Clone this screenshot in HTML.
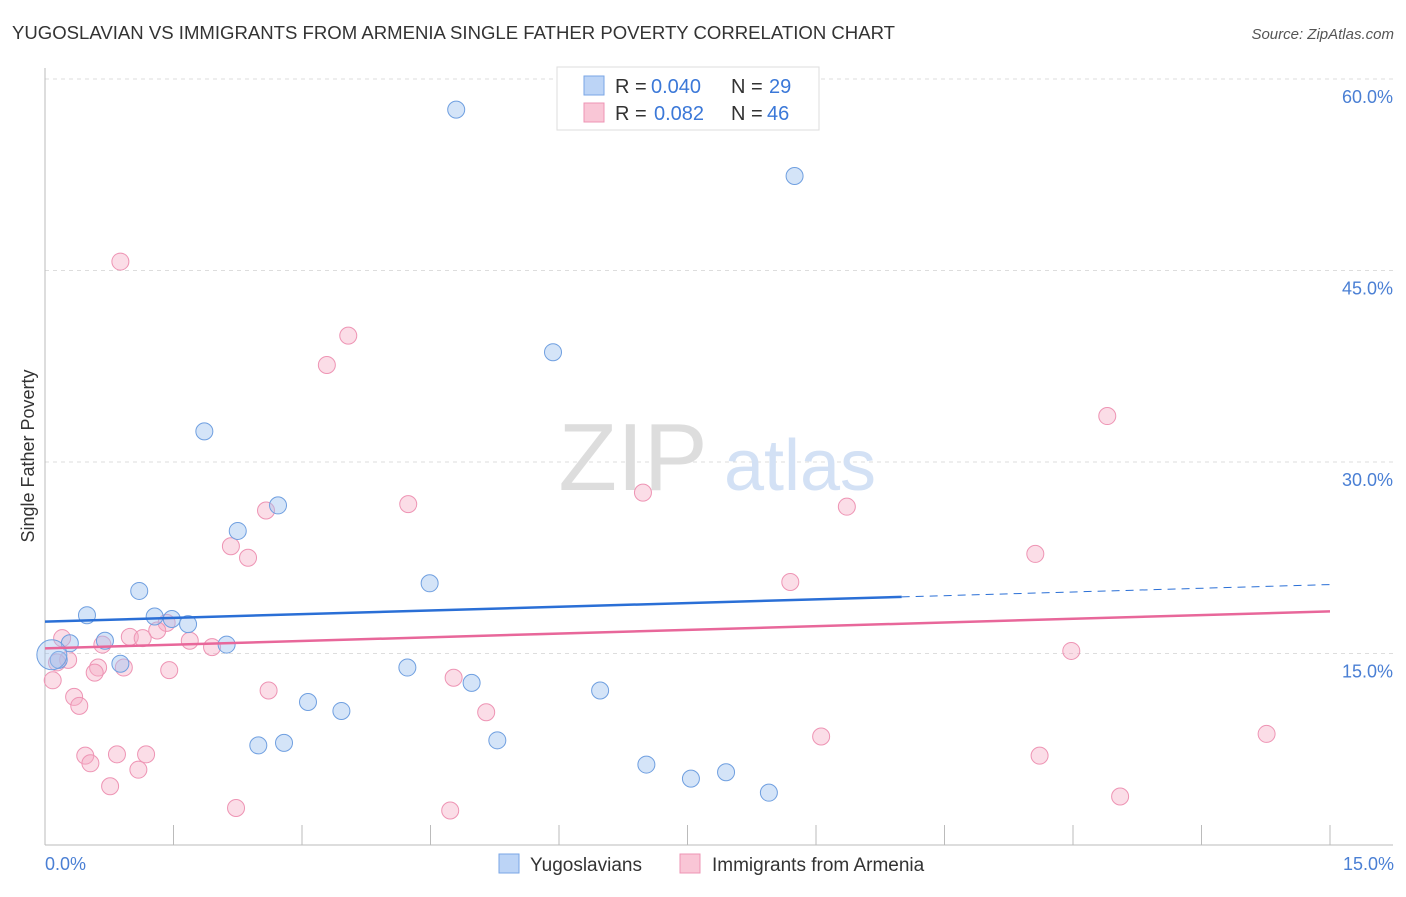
<!DOCTYPE html>
<html><head><meta charset="utf-8"><style>
body{margin:0;background:#fff;font-family:"Liberation Sans",sans-serif;}
svg text{font-family:"Liberation Sans",sans-serif;}
</style></head><body>
<svg id="chart" width="1406" height="892" xmlns="http://www.w3.org/2000/svg">
<text x="12" y="39" font-size="18" fill="#333" textLength="883" lengthAdjust="spacingAndGlyphs">YUGOSLAVIAN VS IMMIGRANTS FROM ARMENIA SINGLE FATHER POVERTY CORRELATION CHART</text>
<text x="1394" y="39" font-size="15" fill="#555" font-style="italic" text-anchor="end">Source: ZipAtlas.com</text>
<g id="grid"></g>
<text x="633" y="490" font-size="96" fill="#ddd" font-family="Liberation Serif" text-anchor="middle">ZIP</text>
<text x="800" y="490" font-size="72" fill="#d3e1f5" text-anchor="middle">atlas</text>
<g id="marks"></g>
<text transform="translate(34,456) rotate(-90)" font-size="18" fill="#333" text-anchor="middle">Single Father Poverty</text>
<text x="45" y="870" font-size="18" fill="#4a7fd4">0.0%</text>
<text x="1394" y="870" font-size="18" fill="#4a7fd4" text-anchor="end">15.0%</text>
<g>
<rect x="557" y="67" width="262" height="63" fill="#fff" stroke="#ddd"/>
<rect x="584" y="76" width="20" height="19" fill="#bcd4f6" stroke="#7aa6e6"/>
<rect x="584" y="103" width="20" height="19" fill="#f9c6d6" stroke="#ee94b4"/>
<text x="615" y="93" font-size="20" fill="#333">R =</text>
<text x="651" y="93" font-size="20" fill="#3b78d8">0.040</text>
<text x="731" y="93" font-size="20" fill="#333">N =</text>
<text x="769" y="93" font-size="20" fill="#3b78d8">29</text>
<text x="615" y="120" font-size="20" fill="#333">R =</text>
<text x="654" y="120" font-size="20" fill="#3b78d8">0.082</text>
<text x="731" y="120" font-size="20" fill="#333">N =</text>
<text x="767" y="120" font-size="20" fill="#3b78d8">46</text>
</g>
<g>
<rect x="499" y="854" width="20" height="19" fill="#bcd4f6" stroke="#7aa6e6"/>
<text x="530" y="871" font-size="19" fill="#333">Yugoslavians</text>
<rect x="680" y="854" width="20" height="19" fill="#f9c6d6" stroke="#ee94b4"/>
<text x="712" y="871" font-size="19" fill="#333">Immigrants from Armenia</text>
</g>
</svg>
<script>
const yTicks=[15,30,45,60];
const yTickLabels=["15.0%","30.0%","45.0%","60.0%"];
const xTicks=[0,1.5,3,4.5,6,7.5,9,10.5,12,13.5,15];
const blueX=[4.80,8.75,5.93,1.86,2.72,2.25,4.49,1.10,0.49,1.28,1.48,1.67,0.29,0.70,2.12,0.16,0.88,4.23,4.98,6.48,3.07,3.46,5.28,2.49,2.79,7.02,7.95,7.54,8.45];
const blueY=[57.6,52.4,38.6,32.4,26.6,24.6,20.5,19.9,18.0,17.9,17.7,17.3,15.8,16.0,15.7,14.5,14.2,13.9,12.7,12.1,11.2,10.5,8.2,7.8,8.0,6.3,5.7,5.2,4.1];
const pinkX=[0.88,3.54,3.29,12.40,6.98,4.24,9.36,2.58,2.17,2.37,11.56,8.70,1.42,1.31,0.99,1.14,0.20,0.67,1.69,1.95,0.27,0.14,0.62,0.92,0.58,1.45,0.09,11.98,4.77,0.34,2.61,0.40,5.15,9.06,14.26,0.47,0.84,1.18,0.53,1.09,0.76,11.61,12.55,2.23,4.73];
const pinkY=[45.7,39.9,37.6,33.6,27.6,26.7,26.5,26.2,23.4,22.5,22.8,20.6,17.4,16.8,16.3,16.2,16.2,15.7,16.0,15.5,14.5,14.3,13.9,13.9,13.5,13.7,12.9,15.2,13.1,11.6,12.1,10.9,10.4,8.5,8.7,7.0,7.1,7.1,6.4,5.9,4.6,7.0,3.8,2.9,2.7];
const blueTrend=[17.5,20.4];
const pinkTrend=[15.4,18.3];
const NS="http://www.w3.org/2000/svg";
const xs=v=>45+v/15*1285;
const ys=v=>845-v*191.5/15;
function mk(tag,attrs,parent){const e=document.createElementNS(NS,tag);for(const k in attrs)e.setAttribute(k,attrs[k]);parent.appendChild(e);return e;}
const grid=document.getElementById('grid');
const marks=document.getElementById('marks');
yTicks.forEach((t,i)=>{
 const l=mk('line',{x1:45,x2:1393,y1:ys(t),y2:ys(t),stroke:'#ddd','stroke-dasharray':'4,4'},grid);
 
 
 const tx=mk('text',{x:1393,y:ys(t)+24,'font-size':18,fill:'#4a7fd4','text-anchor':'end'},grid);
 tx.textContent=yTickLabels[i];
 
 
});
const ax=mk('line',{x1:45,x2:1393,y1:845,y2:845,stroke:'#bbb'},grid);


const ay=mk('line',{x1:45,x2:45,y1:68,y2:845,stroke:'#bbb'},grid);


xTicks.forEach(t=>{
 const l=mk('line',{x1:xs(t),x2:xs(t),y1:825,y2:845,stroke:'#bbb'},grid);
 
 
});
pinkX.forEach((x,i)=>{
 const c=mk('circle',{cx:xs(x),cy:ys(pinkY[i]),r:8.5,fill:'rgba(246,170,196,0.4)',stroke:'#ee94b4','stroke-width':1},marks);
 
 
});
blueX.forEach((x,i)=>{
 const c=mk('circle',{cx:xs(x),cy:ys(blueY[i]),r:8.5,fill:'rgba(160,196,240,0.45)',stroke:'#6f9fe0','stroke-width':1},marks);
 
 
});
const big=mk('circle',{cx:xs(0.08),cy:ys(14.9),r:15,fill:'rgba(160,196,240,0.4)',stroke:'#6f9fe0'},marks);


const bt=v=>blueTrend[0]+(blueTrend[1]-blueTrend[0])*v/15;
const b1=mk('line',{x1:xs(0),y1:ys(bt(0)),x2:xs(10),y2:ys(bt(10)),stroke:'#2a6fd6','stroke-width':2.5},marks);


const b2=mk('line',{x1:xs(10),y1:ys(bt(10)),x2:xs(15),y2:ys(bt(15)),stroke:'#2a6fd6','stroke-width':1,'stroke-dasharray':'8,6'},marks);


const p1=mk('line',{x1:xs(0),y1:ys(pinkTrend[0]),x2:xs(15),y2:ys(pinkTrend[1]),stroke:'#e8679a','stroke-width':2.5},marks);


</script>
</body></html>
